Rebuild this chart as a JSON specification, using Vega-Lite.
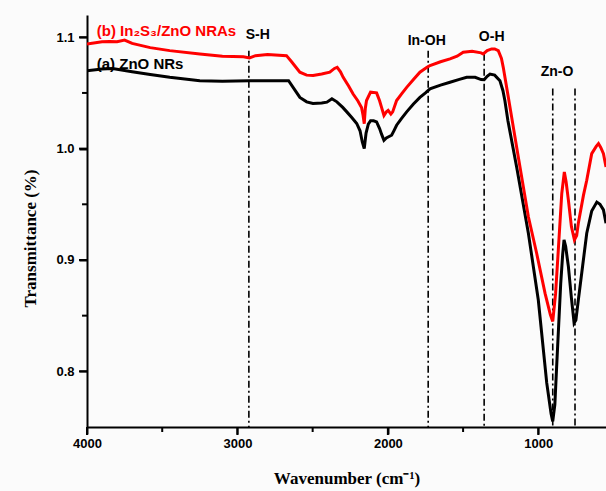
{
  "$schema": "https://vega.github.io/schema/vega-lite/v6.json",
  "width": 519,
  "height": 412,
  "autosize": {"type": "none"},
  "padding": {"left": 87, "top": 15, "right": 0, "bottom": 64},
  "background": "#fbfbfb",
  "view": {"stroke": null},
  "config": {
    "axis": {
      "domainColor": "black", "domainWidth": 2, "tickColor": "black", "tickWidth": 2,
      "labelFont": "Liberation Sans", "labelFontWeight": "bold", "labelFontSize": 13, "labelColor": "black",
      "titleFont": "Liberation Serif", "titleFontSize": 17, "titleFontWeight": "bold", "titleColor": "black",
      "grid": false, "labelFlush": false, "labelOverlap": false
    }
  },
  "datasets": {
    "spectra": [
      {"s": "a", "w": 4000, "t": 1.070}, {"s": "a", "w": 3900, "t": 1.0715}, {"s": "a", "w": 3830, "t": 1.0719},
      {"s": "a", "w": 3700, "t": 1.069}, {"s": "a", "w": 3580, "t": 1.0665}, {"s": "a", "w": 3450, "t": 1.064},
      {"s": "a", "w": 3250, "t": 1.061}, {"s": "a", "w": 3100, "t": 1.0605}, {"s": "a", "w": 2920, "t": 1.061},
      {"s": "a", "w": 2750, "t": 1.061}, {"s": "a", "w": 2660, "t": 1.061}, {"s": "a", "w": 2620, "t": 1.053},
      {"s": "a", "w": 2585, "t": 1.046}, {"s": "a", "w": 2540, "t": 1.042}, {"s": "a", "w": 2498, "t": 1.0405},
      {"s": "a", "w": 2440, "t": 1.041}, {"s": "a", "w": 2405, "t": 1.0417}, {"s": "a", "w": 2372, "t": 1.0448},
      {"s": "a", "w": 2339, "t": 1.042}, {"s": "a", "w": 2300, "t": 1.037}, {"s": "a", "w": 2273, "t": 1.033},
      {"s": "a", "w": 2240, "t": 1.028}, {"s": "a", "w": 2207, "t": 1.0226}, {"s": "a", "w": 2185, "t": 1.016},
      {"s": "a", "w": 2170, "t": 1.006}, {"s": "a", "w": 2157, "t": 1.000}, {"s": "a", "w": 2145, "t": 1.014},
      {"s": "a", "w": 2130, "t": 1.022}, {"s": "a", "w": 2115, "t": 1.025}, {"s": "a", "w": 2095, "t": 1.025},
      {"s": "a", "w": 2075, "t": 1.024}, {"s": "a", "w": 2055, "t": 1.018}, {"s": "a", "w": 2042, "t": 1.013},
      {"s": "a", "w": 2026, "t": 1.0074}, {"s": "a", "w": 2010, "t": 1.0095}, {"s": "a", "w": 1998, "t": 1.0104},
      {"s": "a", "w": 1975, "t": 1.012}, {"s": "a", "w": 1960, "t": 1.016}, {"s": "a", "w": 1942, "t": 1.021},
      {"s": "a", "w": 1910, "t": 1.027}, {"s": "a", "w": 1875, "t": 1.033}, {"s": "a", "w": 1830, "t": 1.040},
      {"s": "a", "w": 1787, "t": 1.046}, {"s": "a", "w": 1750, "t": 1.050}, {"s": "a", "w": 1720, "t": 1.0537},
      {"s": "a", "w": 1650, "t": 1.057}, {"s": "a", "w": 1587, "t": 1.0596}, {"s": "a", "w": 1530, "t": 1.062},
      {"s": "a", "w": 1476, "t": 1.064}, {"s": "a", "w": 1420, "t": 1.064}, {"s": "a", "w": 1380, "t": 1.062},
      {"s": "a", "w": 1360, "t": 1.0618}, {"s": "a", "w": 1340, "t": 1.065}, {"s": "a", "w": 1321, "t": 1.067},
      {"s": "a", "w": 1290, "t": 1.066}, {"s": "a", "w": 1255, "t": 1.061}, {"s": "a", "w": 1235, "t": 1.052},
      {"s": "a", "w": 1222, "t": 1.043}, {"s": "a", "w": 1202, "t": 1.025}, {"s": "a", "w": 1144, "t": 0.9835},
      {"s": "a", "w": 1066, "t": 0.924}, {"s": "a", "w": 1000, "t": 0.864}, {"s": "a", "w": 944, "t": 0.7896},
      {"s": "a", "w": 915, "t": 0.762}, {"s": "a", "w": 904, "t": 0.755}, {"s": "a", "w": 890, "t": 0.770},
      {"s": "a", "w": 878, "t": 0.8045}, {"s": "a", "w": 851, "t": 0.879}, {"s": "a", "w": 838, "t": 0.905},
      {"s": "a", "w": 829, "t": 0.918}, {"s": "a", "w": 818, "t": 0.912}, {"s": "a", "w": 800, "t": 0.894},
      {"s": "a", "w": 780, "t": 0.866}, {"s": "a", "w": 762, "t": 0.8433}, {"s": "a", "w": 750, "t": 0.846},
      {"s": "a", "w": 734, "t": 0.864}, {"s": "a", "w": 705, "t": 0.895}, {"s": "a", "w": 678, "t": 0.924},
      {"s": "a", "w": 645, "t": 0.944}, {"s": "a", "w": 611, "t": 0.952}, {"s": "a", "w": 590, "t": 0.950},
      {"s": "a", "w": 567, "t": 0.945}, {"s": "a", "w": 550, "t": 0.933},

      {"s": "b", "w": 4000, "t": 1.094}, {"s": "b", "w": 3900, "t": 1.096}, {"s": "b", "w": 3850, "t": 1.0963},
      {"s": "b", "w": 3800, "t": 1.096}, {"s": "b", "w": 3750, "t": 1.0975}, {"s": "b", "w": 3700, "t": 1.0945},
      {"s": "b", "w": 3580, "t": 1.0907}, {"s": "b", "w": 3450, "t": 1.088}, {"s": "b", "w": 3250, "t": 1.085},
      {"s": "b", "w": 3100, "t": 1.083}, {"s": "b", "w": 2960, "t": 1.0825}, {"s": "b", "w": 2920, "t": 1.0815},
      {"s": "b", "w": 2880, "t": 1.0835}, {"s": "b", "w": 2800, "t": 1.0845}, {"s": "b", "w": 2674, "t": 1.0835},
      {"s": "b", "w": 2640, "t": 1.078}, {"s": "b", "w": 2585, "t": 1.0686}, {"s": "b", "w": 2540, "t": 1.066},
      {"s": "b", "w": 2497, "t": 1.0656}, {"s": "b", "w": 2440, "t": 1.067}, {"s": "b", "w": 2386, "t": 1.0686},
      {"s": "b", "w": 2355, "t": 1.072}, {"s": "b", "w": 2337, "t": 1.073}, {"s": "b", "w": 2315, "t": 1.069},
      {"s": "b", "w": 2297, "t": 1.064}, {"s": "b", "w": 2260, "t": 1.056}, {"s": "b", "w": 2231, "t": 1.049},
      {"s": "b", "w": 2200, "t": 1.043}, {"s": "b", "w": 2175, "t": 1.037}, {"s": "b", "w": 2165, "t": 1.030},
      {"s": "b", "w": 2157, "t": 1.0224}, {"s": "b", "w": 2150, "t": 1.036}, {"s": "b", "w": 2142, "t": 1.0432},
      {"s": "b", "w": 2115, "t": 1.0507}, {"s": "b", "w": 2095, "t": 1.0505}, {"s": "b", "w": 2075, "t": 1.050},
      {"s": "b", "w": 2055, "t": 1.043}, {"s": "b", "w": 2042, "t": 1.037}, {"s": "b", "w": 2026, "t": 1.0298},
      {"s": "b", "w": 2010, "t": 1.033}, {"s": "b", "w": 1998, "t": 1.0343}, {"s": "b", "w": 1980, "t": 1.031},
      {"s": "b", "w": 1968, "t": 1.033}, {"s": "b", "w": 1942, "t": 1.0432}, {"s": "b", "w": 1910, "t": 1.049},
      {"s": "b", "w": 1875, "t": 1.055}, {"s": "b", "w": 1830, "t": 1.062}, {"s": "b", "w": 1787, "t": 1.0686},
      {"s": "b", "w": 1740, "t": 1.073}, {"s": "b", "w": 1720, "t": 1.0746}, {"s": "b", "w": 1650, "t": 1.078},
      {"s": "b", "w": 1587, "t": 1.0806}, {"s": "b", "w": 1540, "t": 1.083}, {"s": "b", "w": 1499, "t": 1.0865},
      {"s": "b", "w": 1440, "t": 1.0875}, {"s": "b", "w": 1380, "t": 1.086}, {"s": "b", "w": 1366, "t": 1.085},
      {"s": "b", "w": 1340, "t": 1.088}, {"s": "b", "w": 1310, "t": 1.0895}, {"s": "b", "w": 1290, "t": 1.0895},
      {"s": "b", "w": 1266, "t": 1.088}, {"s": "b", "w": 1245, "t": 1.081}, {"s": "b", "w": 1233, "t": 1.073},
      {"s": "b", "w": 1199, "t": 1.046}, {"s": "b", "w": 1133, "t": 0.9925}, {"s": "b", "w": 1066, "t": 0.9388},
      {"s": "b", "w": 1011, "t": 0.906}, {"s": "b", "w": 955, "t": 0.870}, {"s": "b", "w": 920, "t": 0.851},
      {"s": "b", "w": 904, "t": 0.8448}, {"s": "b", "w": 885, "t": 0.870}, {"s": "b", "w": 867, "t": 0.909},
      {"s": "b", "w": 844, "t": 0.9597}, {"s": "b", "w": 827, "t": 0.979}, {"s": "b", "w": 815, "t": 0.970},
      {"s": "b", "w": 800, "t": 0.9537}, {"s": "b", "w": 780, "t": 0.930}, {"s": "b", "w": 760, "t": 0.918},
      {"s": "b", "w": 745, "t": 0.922}, {"s": "b", "w": 734, "t": 0.933}, {"s": "b", "w": 700, "t": 0.958},
      {"s": "b", "w": 678, "t": 0.9716}, {"s": "b", "w": 645, "t": 0.9955}, {"s": "b", "w": 615, "t": 1.002},
      {"s": "b", "w": 600, "t": 1.0045}, {"s": "b", "w": 585, "t": 1.001}, {"s": "b", "w": 567, "t": 0.9955},
      {"s": "b", "w": 550, "t": 0.9835}
    ],
    "marks": [
      {"w": 2924, "top": 1.088}, {"w": 1732, "top": 1.088}, {"w": 1360, "top": 1.0853},
      {"w": 904, "top": 1.054}, {"w": 756, "top": 1.054}
    ],
    "xticks": [
      {"w": 4000, "end": 0.7428}, {"w": 3500, "end": 0.7455}, {"w": 3000, "end": 0.7428},
      {"w": 2500, "end": 0.7455}, {"w": 2000, "end": 0.7428}, {"w": 1500, "end": 0.7455},
      {"w": 1000, "end": 0.7428}
    ],
    "yticks": [
      {"t": 0.8, "end": 4053}, {"t": 0.85, "end": 4033}, {"t": 0.9, "end": 4053},
      {"t": 0.95, "end": 4033}, {"t": 1.0, "end": 4053}, {"t": 1.05, "end": 4033},
      {"t": 1.1, "end": 4053}
    ],
    "legendLabels": [
      {"w": 3935, "t": 1.1059, "text": "(b) In₂S₃/ZnO NRAs", "c": "red"},
      {"w": 3935, "t": 1.0761, "text": "(a) ZnO NRs", "c": "black"}
    ],
    "bandLabels": [
      {"w": 2865, "t": 1.1023, "text": "S-H"},
      {"w": 1742, "t": 1.097, "text": "In-OH"},
      {"w": 1310, "t": 1.0999, "text": "O-H"},
      {"w": 876, "t": 1.0686, "text": "Zn-O"}
    ]
  },
  "layer": [
    {
      "data": {"name": "marks"},
      "mark": {"type": "rule", "strokeDash": [7, 3, 2, 3], "strokeWidth": 1.6, "color": "black"},
      "encoding": {
        "x": {"field": "w", "type": "quantitative", "scale": {"domain": [4000, 550], "nice": false, "zero": false},
              "axis": {"orient": "bottom", "values": [4000, 3000, 2000, 1000], "format": "d", "tickSize": 7,
                       "labelPadding": 3, "title": "Wavenumber (cm⁻¹)", "titlePadding": 20}},
        "y": {"field": "top", "type": "quantitative", "scale": {"domain": [0.75, 1.12], "nice": false, "zero": false},
              "axis": {"orient": "left", "values": [0.8, 0.9, 1.0, 1.1], "format": ".1f", "tickSize": 8,
                       "labelPadding": 5, "title": "Transmittance (%)", "titlePadding": 16, "titleY": 223}},
        "y2": {"datum": 0.75}
      }
    },
    {
      "data": {"name": "xticks"},
      "mark": {"type": "rule", "strokeWidth": 2, "color": "black", "clip": false},
      "encoding": {
        "x": {"field": "w", "type": "quantitative"},
        "y": {"field": "end", "type": "quantitative"},
        "y2": {"datum": 0.75}
      }
    },
    {
      "data": {"name": "yticks"},
      "mark": {"type": "rule", "strokeWidth": 2, "color": "black", "clip": false},
      "encoding": {
        "y": {"field": "t", "type": "quantitative"},
        "x": {"field": "end", "type": "quantitative"},
        "x2": {"datum": 4000}
      }
    },
    {
      "data": {"name": "spectra"},
      "mark": {"type": "line", "strokeWidth": 3, "clip": true, "interpolate": "linear"},
      "encoding": {
        "x": {"field": "w", "type": "quantitative"},
        "y": {"field": "t", "type": "quantitative"},
        "color": {"field": "s", "type": "nominal", "scale": {"domain": ["a", "b"], "range": ["black", "#ff0000"]}, "legend": null},
        "detail": {"field": "s"}
      }
    },
    {
      "data": {"name": "legendLabels"},
      "mark": {"type": "text", "font": "Liberation Sans", "fontWeight": "bold", "fontSize": 15, "baseline": "middle", "align": "left"},
      "encoding": {
        "x": {"field": "w", "type": "quantitative"},
        "y": {"field": "t", "type": "quantitative"},
        "text": {"field": "text"},
        "color": {"field": "c", "type": "nominal", "scale": null}
      }
    },
    {
      "data": {"name": "bandLabels"},
      "mark": {"type": "text", "font": "Liberation Sans", "fontWeight": "bold", "fontSize": 14, "baseline": "middle", "align": "center", "color": "black"},
      "encoding": {
        "x": {"field": "w", "type": "quantitative"},
        "y": {"field": "t", "type": "quantitative"},
        "text": {"field": "text"}
      }
    },
    {
      "mark": {"type": "rule", "strokeWidth": 2, "color": "black"},
      "encoding": {"y": {"datum": 1.12}}
    }
  ]
}
